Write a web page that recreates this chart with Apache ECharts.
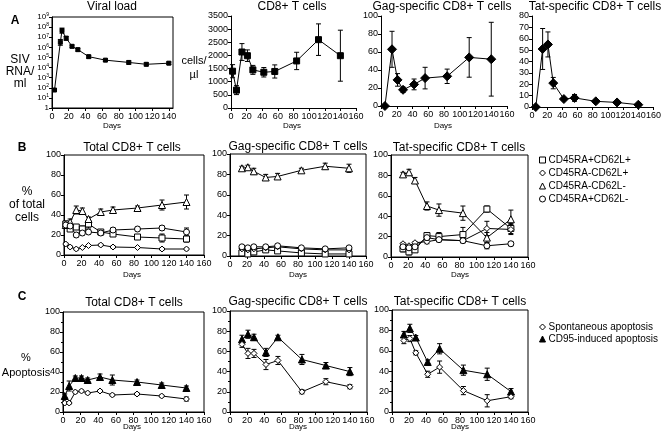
<!DOCTYPE html>
<html><head><meta charset="utf-8">
<script src="https://cdn.jsdelivr.net/npm/echarts@6/dist/echarts.min.js"></script>
<style>html,body{margin:0;padding:0;background:#fff}#c{width:664px;height:431px}</style>
</head><body><div id="c"></div>
<script>
// ---------- Panel A ----------
const viralDays = [3, 10, 12, 17, 24, 31, 44, 64, 92, 113, 140];
const viralLoad = [60, 3.2e6, 4.6e7, 8e6, 1.26e6, 5.9e5, 1.2e5, 5.4e4, 3.2e4, 2.1e4, 2.7e4];
const viralLow  = [45, 1.6e6, 2.5e7, 5e6, 9e5, 4.2e5, 8.5e4, 4e4, 2.2e4, 1.5e4, 2e4];
const viralHigh = [80, 6e6, 8e7, 1.2e7, 1.7e6, 8e5, 1.6e5, 7e4, 4.5e4, 2.9e4, 3.5e4];

const cd8Days = [2, 7, 14, 21, 28, 42, 56, 84, 112, 140];
const cd8Count = [1400, 680, 2130, 1990, 1450, 1360, 1390, 1790, 2600, 1990];
const cd8Err   = [250, 170, 320, 220, 170, 180, 250, 330, 600, 970];

const tetDaysA = [5, 14, 21, 28, 42, 56, 84, 112, 140];
const gagCells = [0, 63, 29, 18, 24, 31, 33, 54, 52];
const gagErr   = [0, 20, 7, 3, 6, 12, 8, 22, 41];
const tatCells = [0, 51, 55, 21, 7, 8, 5, 4, 2];
const tatErr   = [0, 18, 11, 5, 1, 3, 1, 1, 1];

// ---------- Panel B ----------
const phenoNames = ['CD45RA+CD62L+', 'CD45RA-CD62L+', 'CD45RA-CD62L-', 'CD45RA+CD62L-'];
const totalDays = [2, 7, 14, 21, 28, 42, 56, 84, 112, 140];
const totRApL = [31, 26, 28, 26, 31, 23, 21, 18, 17, 16];
const totRApLErr = [3, 2, 2, 3, 4, 2, 2, 2, 4, 3];
const totRAmL = [11, 8, 6, 7.5, 9.5, 10, 8, 7.5, 6, 6];
const totRAmLErr = [1, 1, 1, 1, 1, 1, 1, 1, 1, 1];
const totRAmN = [30, 33, 45, 44, 36, 43, 45, 47, 50, 53];
const totRAmNErr = [2, 3, 4, 3, 2, 3, 3, 2, 5, 7];
const totRApN = [30, 29, 20, 22, 23, 22, 25, 26, 27, 23];
const totRApNErr = [2, 2, 2, 2, 2, 2, 2, 2, 2, 4];

const specDays = [14, 21, 28, 42, 56, 84, 112, 140];
const gagRApL = [3, 2, 4, 6, 5, 3, 2, 2];
const gagRAmL = [7, 6, 7, 8, 9, 7, 6, 6];
const gagRAmN = [86, 87, 83, 77, 78, 84, 88, 86];
const gagRAmNErr = [2, 2, 3, 3, 3, 2, 3, 4];
const gagRApN = [9, 8, 9, 9, 10, 8, 7, 8];
const gagSmallErr = [1, 1, 1, 1, 1, 1, 1, 1];

const tatRApL = [8, 5, 7, 21, 20, 22, 47, 28];
const tatRApLErr = [3, 3, 2, 3, 4, 7, 3, 5];
const tatRAmL = [13, 11, 14, 15, 17, 16, 28, 27];
const tatRAmLErr = [1, 1, 1, 2, 2, 2, 7, 5];
const tatRAmN = [81, 83, 75, 50, 46, 43, 19, 37];
const tatRAmNErr = [2, 3, 3, 4, 6, 7, 5, 9];
const tatRApN = [10, 9, 10, 19, 17, 16, 11, 13];
const tatRApNErr = [1, 1, 1, 2, 2, 2, 3, 2];

// ---------- Panel C ----------
const apoNames = ['Spontaneous apoptosis', 'CD95-induced apoptosis'];
const totSpont = [9, 9, 20, 21, 19, 21, 17, 18, 16, 13];
const totSpontErr = [1, 1, 1, 1, 1, 1, 1, 1, 1, 2];
const totCD95 = [16, 26, 34, 34, 32, 35, 32, 30, 27, 24];
const totCD95Err = [2, 5, 2, 2, 2, 3, 5, 2, 2, 2];
const gagSpont = [67, 58, 58, 47, 51, 20, 30, 25];
const gagSpontErr = [3, 5, 4, 5, 4, 2, 3, 2];
const gagCD95 = [72, 77, 74, 59, 74, 52, 46, 40];
const gagCD95Err = [4, 4, 3, 4, 2, 5, 3, 4];
const tatSpont = [70, 72, 58, 37, 44, 21, 11, 15];
const tatSpontErr = [3, 3, 2, 3, 6, 4, 6, 2];
const tatCD95 = [76, 82, 73, 49, 62, 41, 37, 20];
const tatCD95Err = [3, 4, 2, 2, 5, 5, 6, 3];

// ---------- build ----------
const FONT = '"Liberation Sans", Arial, Helvetica, sans-serif';
const grids = [], xAxes = [], yAxes = [], series = [], graphics = [];

function panel(o) {
  const gi = grids.length;
  grids.push({left: o.l, top: o.t, width: o.r - o.l, height: o.b - o.t,
    show: !!o.box, borderColor: '#000', borderWidth: 1, backgroundColor: 'transparent'});
  xAxes.push({gridIndex: gi, type: 'value', min: 0, max: o.xMax, interval: 20,
    axisLine: {show: true, onZero: false, lineStyle: {color: '#000', width: 1}},
    axisTick: {show: true, length: 3, lineStyle: {color: '#000'}},
    axisLabel: {color: '#000', fontSize: 9, fontFamily: FONT, margin: 4, formatter: v => String(v)},
    splitLine: {show: false}});
  const y = {gridIndex: gi, type: o.yType || 'value', min: o.yMin, max: o.yMax,
    axisLine: {show: true, onZero: false, lineStyle: {color: '#000', width: 1}},
    axisTick: {show: true, length: 3, lineStyle: {color: '#000'}},
    axisLabel: {color: '#000', fontSize: 9, fontFamily: FONT, margin: 3, formatter: v => String(v)},
    splitLine: {show: false}};
  if (o.yInterval) y.interval = o.yInterval;
  if (o.minor) { y.minorTick = {show: true, splitNumber: 2, length: 2, lineStyle: {color: '#000'}}; }
  if (o.yType === 'log') {
    y.logBase = 10;
    y.axisLabel.formatter = v => {
      const e = Math.round(Math.log10(v));
      return e === 0 ? '{b|1}' : '{b|10}{s|' + e + '}';
    };
    y.axisLabel.rich = {b: {fontSize: 8, fontFamily: FONT, color: '#000'},
                        s: {fontSize: 5, fontFamily: FONT, color: '#000', verticalAlign: 'bottom', padding: [0, 0, 4, 0]}};
  }
  yAxes.push(y);
  return gi;
}

function addLine(gi, name, days, vals, sym, size, filled) {
  series.push({type: 'line', name: name, xAxisIndex: gi, yAxisIndex: gi,
    data: days.map((d, i) => [d, vals[i]]),
    symbol: sym, symbolSize: size, showSymbol: true, showAllSymbol: true,
    lineStyle: {color: '#000', width: 1},
    itemStyle: {color: filled ? '#000' : '#fff', borderColor: '#000', borderWidth: 1},
    z: 3, animation: false, silent: true});
}
function errRender(params, api) {
  const x = api.value(0), lo = api.value(1), hi = api.value(2);
  const p1 = api.coord([x, lo]), p2 = api.coord([x, hi]);
  const w = 2.5, st = {stroke: '#000', lineWidth: 1};
  return {type: 'group', children: [
    {type: 'line', shape: {x1: p1[0], y1: p1[1], x2: p2[0], y2: p2[1]}, style: st},
    {type: 'line', shape: {x1: p1[0] - w, y1: p1[1], x2: p1[0] + w, y2: p1[1]}, style: st},
    {type: 'line', shape: {x1: p2[0] - w, y1: p2[1], x2: p2[0] + w, y2: p2[1]}, style: st}
  ]};
}
function addErrLH(gi, days, lo, hi) {
  series.push({type: 'custom', xAxisIndex: gi, yAxisIndex: gi, renderItem: errRender,
    data: days.map((d, i) => [d, lo[i], hi[i]]), encode: {x: 0, y: [1, 2]},
    z: 2, animation: false, silent: true});
}
function addErr(gi, days, vals, e) {
  addErrLH(gi, days, vals.map((v, i) => v - e[i]), vals.map((v, i) => v + e[i]));
}
function txt(t, x, y, size, opts) {
  graphics.push({type: 'text', x: x, y: y, silent: true,
    style: {text: t, fill: '#000', font: (opts && opts.bold ? 'bold ' : '') + size + 'px ' + FONT,
      textAlign: 'center', textVerticalAlign: 'middle', lineHeight: opts && opts.lh ? opts.lh : size + 2}});
}

// Panel A
const gV = panel({l: 52, t: 17, r: 173, b: 108, xMax: 145, yType: 'log', yMin: 1, yMax: 1e9, box: true});
addErrLH(gV, viralDays, viralLow, viralHigh);
addLine(gV, 'viral', viralDays, viralLoad, 'rect', 4, true);

const gC = panel({l: 231, t: 16, r: 356, b: 108, xMax: 160, yMin: 0, yMax: 3500, yInterval: 500});
addErr(gC, cd8Days, cd8Count, cd8Err);
addLine(gC, 'cd8', cd8Days, cd8Count, 'rect', 6, true);

const gG = panel({l: 381, t: 16, r: 507, b: 106, xMax: 160, yMin: 0, yMax: 100, yInterval: 20});
addErr(gG, tetDaysA, gagCells, gagErr);
addLine(gG, 'gag', tetDaysA, gagCells, 'diamond', 9, true);

const gT = panel({l: 532, t: 16, r: 656, b: 107, xMax: 160, yMin: 0, yMax: 80, yInterval: 10});
addErr(gT, tetDaysA, tatCells, tatErr);
addLine(gT, 'tat', tetDaysA, tatCells, 'diamond', 9, true);

// Panel B
const bSyms = ['rect', 'diamond', 'triangle', 'circle'];
const bSize = [6, 6, 7, 6];
const gB1 = panel({l: 64, t: 155, r: 204, b: 255, xMax: 160, yMin: 0, yMax: 100, yInterval: 20, box: true});
const totB = [[totRApL, totRApLErr], [totRAmL, totRAmLErr], [totRAmN, totRAmNErr], [totRApN, totRApNErr]];
totB.forEach((s, k) => { addErr(gB1, totalDays, s[0], s[1]); addLine(gB1, phenoNames[k], totalDays, s[0], bSyms[k], bSize[k], false); });

const gB2 = panel({l: 230, t: 154, r: 366, b: 256, xMax: 160, yMin: 0, yMax: 100, yInterval: 20, box: true});
const gagB = [[gagRApL, gagSmallErr], [gagRAmL, gagSmallErr], [gagRAmN, gagRAmNErr], [gagRApN, gagSmallErr]];
gagB.forEach((s, k) => { addErr(gB2, specDays, s[0], s[1]); addLine(gB2, phenoNames[k], specDays, s[0], bSyms[k], bSize[k], false); });

const gB3 = panel({l: 391, t: 155, r: 528, b: 257, xMax: 160, yMin: 0, yMax: 100, yInterval: 20, box: true});
const tatB = [[tatRApL, tatRApLErr], [tatRAmL, tatRAmLErr], [tatRAmN, tatRAmNErr], [tatRApN, tatRApNErr]];
tatB.forEach((s, k) => { addErr(gB3, specDays, s[0], s[1]); addLine(gB3, phenoNames[k], specDays, s[0], bSyms[k], bSize[k], false); });

// Panel C
const gC1 = panel({l: 63, t: 312, r: 204, b: 412, xMax: 160, yMin: 0, yMax: 100, yInterval: 20, box: true, minor: true});
addErr(gC1, totalDays, totCD95, totCD95Err); addLine(gC1, apoNames[1], totalDays, totCD95, 'triangle', 7, true);
addErr(gC1, totalDays, totSpont, totSpontErr); addLine(gC1, apoNames[0], totalDays, totSpont, 'diamond', 6, false);

const gC2 = panel({l: 230, t: 311, r: 367, b: 412, xMax: 160, yMin: 0, yMax: 100, yInterval: 20, box: true, minor: true});
addErr(gC2, specDays, gagCD95, gagCD95Err); addLine(gC2, apoNames[1], specDays, gagCD95, 'triangle', 7, true);
addErr(gC2, specDays, gagSpont, gagSpontErr); addLine(gC2, apoNames[0], specDays, gagSpont, 'diamond', 6, false);

const gC3 = panel({l: 392, t: 310, r: 528, b: 412, xMax: 160, yMin: 0, yMax: 100, yInterval: 20, box: true, minor: true});
addErr(gC3, specDays, tatCD95, tatCD95Err); addLine(gC3, apoNames[1], specDays, tatCD95, 'triangle', 7, true);
addErr(gC3, specDays, tatSpont, tatSpontErr); addLine(gC3, apoNames[0], specDays, tatSpont, 'diamond', 6, false);

// texts
txt('A', 15, 21, 12, {bold: true});
txt('B', 22, 148, 12, {bold: true});
txt('C', 22, 297, 12, {bold: true});
txt('Viral load', 112, 7, 12);
txt('CD8+ T cells', 292, 7, 12);
txt('Gag-specific CD8+ T cells', 442, 7, 12);
txt('Tat-specific CD8+ T cells', 595, 7, 12);
txt('SIV\nRNA/\nml', 20, 72, 12, {lh: 12});
txt('cells/\nµl', 194, 68, 11, {lh: 14});
txt('Days', 112, 126, 8);
txt('Days', 292, 126, 8);
txt('Days', 443, 126, 8);
txt('Total CD8+ T cells', 132, 148, 12);
txt('Gag-specific CD8+ T cells', 298, 147, 12);
txt('Tat-specific CD8+ T cells', 459, 148, 12);
txt('%\nof total\ncells', 27, 205, 12, {lh: 13});
txt('Days', 132, 275, 8);
txt('Days', 298, 275, 8);
txt('Days', 460, 275, 8);
txt('Total CD8+ T cells', 134, 303, 12);
txt('Gag-specific CD8+ T cells', 298, 302, 12);
txt('Tat-specific CD8+ T cells', 460, 302, 12);
txt('%\nApoptosis', 26, 365, 11, {lh: 15});
txt('Days', 132, 427, 8);
txt('Days', 298, 427, 8);
txt('Days', 460, 427, 8);

const legB = {orient: 'vertical', left: 534, top: 150, itemGap: 3, itemWidth: 6, itemHeight: 6,
  textStyle: {fontSize: 10, fontFamily: FONT, color: '#000', padding: [0, 0, 0, -2]},
  selectedMode: false,
  data: phenoNames.map((n, k) => ({name: n, icon: bSyms[k], itemStyle: {color: '#fff', borderColor: '#000', borderWidth: 1}}))};
const legC = {orient: 'vertical', left: 534, top: 317, itemGap: 2, itemWidth: 6, itemHeight: 6,
  textStyle: {fontSize: 10, fontFamily: FONT, color: '#000', padding: [0, 0, 0, -2]},
  selectedMode: false,
  data: [{name: apoNames[0], icon: 'diamond', itemStyle: {color: '#fff', borderColor: '#000', borderWidth: 1}},
         {name: apoNames[1], icon: 'triangle', itemStyle: {color: '#000', borderColor: '#000', borderWidth: 1}}]};

const chart = echarts.init(document.getElementById('c'), null, {renderer: 'canvas'});
chart.setOption({animation: false, backgroundColor: '#fff', grid: grids, xAxis: xAxes, yAxis: yAxes,
  series: series, graphic: graphics, legend: [legB, legC]});
</script></body></html>
